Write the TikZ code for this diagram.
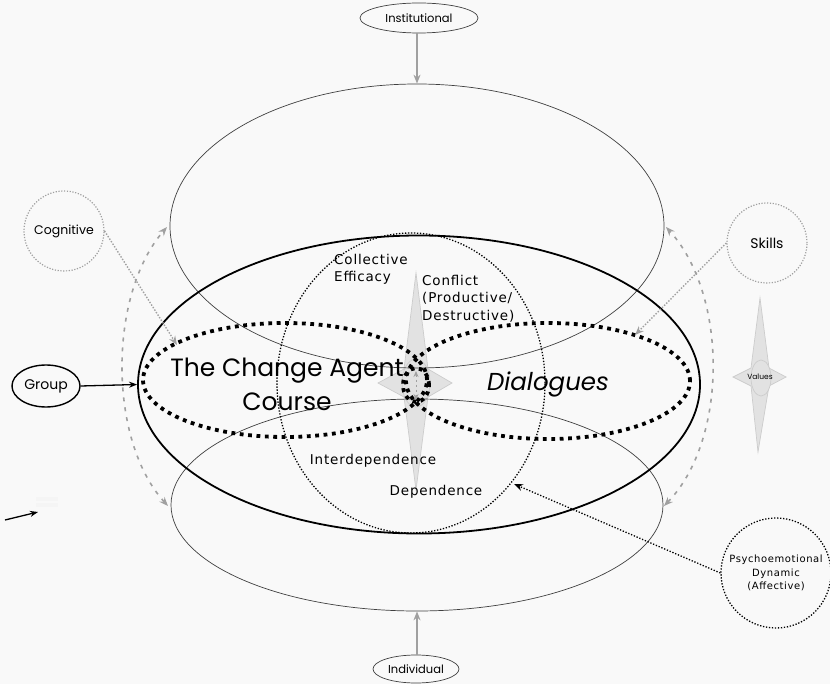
\documentclass[tikz,border=0pt]{standalone}
\usepackage{fontspec}
\setmainfont{Poppins}
\newfontfamily\hand[LetterSpace=6]{DejaVu Sans}
\usetikzlibrary{arrows.meta,shapes.geometric}
\definecolor{bgc}{HTML}{F9F9F9}
\definecolor{starfill}{HTML}{E2E2E2}
\definecolor{starline}{HTML}{CCCCCC}
\definecolor{gline}{HTML}{A0A0A0}
\tikzset{
  ell/.style={ellipse, draw=black!75, line width=0.7pt, inner sep=0pt},
  thickell/.style={ellipse, draw=black, line width=1.8pt, inner sep=0pt},
  dotcircle/.style={ellipse, draw=black, line width=1.3pt, dash pattern=on 1.3pt off 1.7pt, inner sep=0pt},
  bolddots/.style={ellipse, draw=black, line width=3.8pt, dash pattern=on 3.8pt off 4.6pt, inner sep=0pt},
  graycirc/.style={circle, draw=gline, line width=1.2pt, dash pattern=on 1.2pt off 1.6pt, minimum size=80pt, inner sep=0pt},
  blackcirc/.style={circle, draw=black, line width=1.3pt, dash pattern=on 1.3pt off 1.7pt, minimum size=110pt, inner sep=0pt},
  grayarrow/.style={draw=gline, line width=1.4pt, -{Stealth[length=9pt,width=7pt]}},
  graydash/.style={draw=gline, line width=1.6pt, dash pattern=on 4pt off 6pt, {Stealth[length=9pt,width=7pt]}-{Stealth[length=9pt,width=7pt]}},
  graydot/.style={draw=gline, line width=1.4pt, dash pattern=on 1.4pt off 1.6pt, -{Stealth[length=9pt,width=7pt]}},
  blackdot/.style={draw=black, line width=1.3pt, dash pattern=on 1.3pt off 1.7pt, -{Stealth[length=9pt,width=7pt]}},
  handtext/.style={font=\hand\fontsize{13.5}{17.5}\selectfont, inner sep=0pt},
  star/.style={fill=starfill, draw=starline, line width=0.7pt}
}
\begin{document}
\begin{tikzpicture}[x=1pt,y=-1pt]
\fill[bgc] (0,0) rectangle (830,684);
\useasboundingbox (0,0) rectangle (830,684);

% stars
\path[star] (416,273) -- (428,369) -- (452,383) -- (428,397) -- (416,490) -- (404,397) -- (378,383) -- (404,369) -- cycle;
\node[ellipse, draw=starline, line width=0.7pt, minimum width=28pt, minimum height=48pt] (cstarc) at (416,383) {};
\path[star] (760,298) -- (769,368) -- (786,377) -- (769,386) -- (758,452) -- (751,386) -- (733,377) -- (751,368) -- cycle;
\node[ellipse, draw=starline, line width=0.7pt, fill=starfill, minimum width=20pt, minimum height=36pt] (vstarc) at (761,378) {};
\node[font=\fontsize{7.5}{9}\selectfont, inner sep=0pt] (values) at (760,377) {Values};

% main ellipses
\node[ell, minimum width=494pt, minimum height=284pt] (upper) at (417,226) {};
\node[ell, minimum width=492pt, minimum height=212pt] (lower) at (417,505) {};
\node[thickell, minimum width=562pt, minimum height=298pt] (group) at (419,384.5) {};
\node[dotcircle, minimum width=268pt, minimum height=300pt] (dcirc) at (411,383) {};
\node[bolddots, minimum width=284pt, minimum height=114pt] (cac) at (285,380) {};
\node[bolddots, minimum width=284pt, minimum height=116pt] (dlg) at (548,381) {};
\node[bolddots, minimum width=26pt, minimum height=34pt] (core) at (416,385) {};

% tiny arrow inside core
\coordinate (cu) at (416,371);
\coordinate (cd) at (416,400);
\draw[draw=gline, line width=0.8pt, dash pattern=on 2pt off 3pt, {Stealth[length=6pt,width=5pt]}-{Stealth[length=6pt,width=5pt]}] (cu) -- (cd);

% texts
\node[font=\fontsize{25}{34}\selectfont, align=center, inner sep=0pt] (cactext) at (287,384) {The Change Agent\\Course};
\node[font=\fontsize{24.5}{30}\selectfont\itshape, inner sep=0pt] (dlgtext) at (548,384) {Dialogues};
\node[handtext, anchor=north west, align=left] (coll) at (334,254) {Collective\\Efficacy};
\node[handtext, anchor=north west, align=left] (confl) at (422,275) {Conflict\\(Productive/\\Destructive)};
\node[handtext] (interd) at (373,461) {Interdependence};
\node[handtext] (dep) at (436,492) {Dependence};

% top and bottom labels
\node[ell, minimum width=118pt, minimum height=30pt, font=\fontsize{11.5}{14}\selectfont] (inst) at (419,18) {Institutional};
\node[ell, minimum width=86pt, minimum height=28pt, font=\fontsize{11.5}{14}\selectfont] (indiv) at (416,669) {Individual};
\draw[grayarrow] (inst.south -| upper.north) -- (upper.north);
\draw[grayarrow] (indiv.north -| lower.south) -- (lower.south);

% Group
\node[ellipse, draw=black, line width=1.4pt, minimum width=68pt, minimum height=42pt, font=\fontsize{14}{17}\selectfont, inner sep=0pt] (grp) at (46,386) {Group};
\draw[draw=black, line width=1.3pt, -{Stealth[length=8pt,width=6pt]}] (grp.east) -- (group.west);

% Cognitive / Skills
\node[graycirc, font=\fontsize{12.5}{14}\selectfont] (cog) at (64,231) {Cognitive};
\node[graycirc, font=\fontsize{14}{17}\selectfont] (skl) at (767,243) {Skills};
\coordinate (cogend) at (177,345);
\coordinate (sklend) at (635,335);
\draw[graydot] (cog.east) -- (cogend);
\draw[graydot] (skl.west) -- (sklend);

% dashed arcs
\coordinate (la) at (168,506);
\coordinate (lb) at (167,227);
\coordinate (ra) at (664,506);
\coordinate (rb) at (666,227);
\draw[graydash] (la) .. controls (108,440) and (108,295) .. (lb);
\draw[graydash] (ra) .. controls (728,440) and (728,295) .. (rb);

% Psychoemotional
\node[blackcirc, handtext, font=\hand\fontsize{10}{13.5}\selectfont, align=center] (psy) at (776,573) {Psychoemotional\\Dynamic\\(Affective)};
\coordinate (psyend) at (514,484);
\draw[blackdot] (psy.west) -- (psyend);

% bottom-left arrow and faint mark
\coordinate (bls) at (5,520);
\coordinate (ble) at (38,512);
\draw[draw=black, line width=1.3pt, -{Stealth[length=8pt,width=6pt]}] (bls) -- (ble);
\fill[black!4] (36,497) rectangle (58,501);
\fill[black!4] (36,503) rectangle (58,507);
\end{tikzpicture}
\end{document}
